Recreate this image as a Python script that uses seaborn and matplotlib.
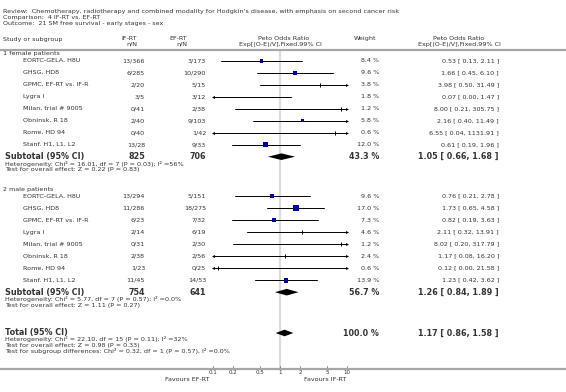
import numpy as np
import matplotlib
matplotlib.use("Agg")
import matplotlib.pyplot as plt
import seaborn as sns
import pandas as pd
from matplotlib.lines import Line2D

# ---------------- data ----------------
title_lines = [
    "Review:  Chemotherapy, radiotherapy and combined modality for Hodgkin's disease, with emphasis on second cancer risk",
    "Comparison:  4 IF-RT vs. EF-RT",
    "Outcome:  21 SM free survival - early stages - sex",
]
group_names = ["1 female patients", "2 male patients"]
studies = ["EORTC-GELA, H8U", "GHSG, HD8", "GPMC, EF-RT vs. IF-R", "Lygra I",
           "Milan, trial # 9005", "Obninsk, R 18", "Rome, HD 94", "Stanf. H1, L1, L2"]

female_ifrt = ["13/366", "6/285", "2/20", "3/5", "0/41", "2/40", "0/40", "13/28"]
female_efrt = ["3/173", "10/290", "5/15", "3/12", "2/38", "9/103", "1/42", "9/33"]
female_weight = [8.4, 9.6, 3.8, 1.8, 1.2, 5.8, 0.6, 12.0]
female_or = [0.53, 1.66, 3.98, 0.07, 8.00, 2.16, 6.55, 0.61]
female_lo = [0.13, 0.45, 0.50, 0.00, 0.21, 0.40, 0.04, 0.19]
female_hi = [2.11, 6.10, 31.49, 1.47, 305.75, 11.49, 1131.91, 1.96]

male_ifrt = ["13/294", "11/286", "6/23", "2/14", "0/31", "2/38", "1/23", "11/45"]
male_efrt = ["5/151", "18/275", "7/32", "6/19", "2/30", "2/56", "0/25", "14/53"]
male_weight = [9.6, 17.0, 7.3, 4.6, 1.2, 2.4, 0.6, 13.9]
male_or = [0.76, 1.73, 0.82, 2.11, 8.02, 1.17, 0.12, 1.23]
male_lo = [0.21, 0.65, 0.19, 0.32, 0.20, 0.08, 0.00, 0.42]
male_hi = [2.78, 4.58, 3.63, 13.91, 317.79, 16.20, 21.58, 3.62]

subtotal_ifrt = ["825", "754"]
subtotal_efrt = ["706", "641"]
subtotal_weight = [43.3, 56.7]
subtotal_or = [1.05, 1.26]
subtotal_lo = [0.66, 0.84]
subtotal_hi = [1.68, 1.89]
subtotal_notes = [
    ["Heterogeneity: Chi\u00b2 = 16.01, df = 7 (P = 0.03); I\u00b2 =56%",
     "Test for overall effect: Z = 0.22 (P = 0.83)"],
    ["Heterogeneity: Chi\u00b2 = 5.77, df = 7 (P = 0.57); I\u00b2 =0.0%",
     "Test for overall effect: Z = 1.11 (P = 0.27)"],
]
total_weight = 100.0
total_or = 1.17
total_lo = 0.86
total_hi = 1.58
total_notes = [
    "Heterogeneity: Chi\u00b2 = 22.10, df = 15 (P = 0.11); I\u00b2 =32%",
    "Test for overall effect: Z = 0.98 (P = 0.33)",
    "Test for subgroup differences: Chi\u00b2 = 0.32, df = 1 (P = 0.57), I\u00b2 =0.0%",
]
tick_values = [0.1, 0.2, 0.5, 1, 2, 5, 10]
tick_labels = ["0.1", "0.2", "0.5", "1", "2", "5", "10"]
favours_left = "Favours EF-RT"
favours_right = "Favours IF-RT"

# ---------------- layout ----------------
W, H = 566, 392
sns.set_theme(style="white")
plt.rcParams['font.family'] = ['DejaVu Sans']
TXT = "#333333"
FS = 4.6
FSB = 5.8
SQ = "#00009C"

fig = plt.figure(figsize=(W / 100, H / 100), dpi=100)
fig.patch.set_facecolor("white")


def fx(px):
    return px / W


def fy(py):
    return 1 - py / H


def t(px, py, s, ha="left", bold=False, size=None, color=TXT):
    fig.text(fx(px), fy(py), s, ha=ha, va="center",
             fontsize=size if size else (FSB if bold else FS),
             fontweight="bold" if bold else "normal", color=color)


X0, X1 = 213, 347
ax = fig.add_axes([fx(X0), 0, (X1 - X0) / W, 1])
ax.set_xscale("log")
ax.set_xlim(0.1, 10)
ax.set_ylim(H, 0)
ax.axis("off")

# titles
for i, line in enumerate(title_lines):
    t(3, 11 + 6.5 * i, line)

# header
t(3, 39, "Study or subgroup")
t(137, 39, "IF-RT", ha="right")
t(137, 44.5, "n/N", ha="right")
t(187, 39, "EF-RT", ha="right")
t(187, 44.5, "n/N", ha="right")
t(284, 38.5, "Peto Odds Ratio", ha="center")
t(280, 44.5, "Exp[(O-E)/V],Fixed,99% CI", ha="center")
t(376, 38.5, "Weight", ha="right")
t(459, 38.5, "Peto Odds Ratio", ha="center")
t(459, 44.5, "Exp[(O-E)/V],Fixed,99% CI", ha="center")

fig.add_artist(Line2D([0, 1], [fy(49.5), fy(49.5)], color="#a6a6a6", lw=1.6))
fig.add_artist(Line2D([0, 1], [fy(369), fy(369)], color="#a6a6a6", lw=1.6))

# reference line
ax.plot([1, 1], [51, 368], color="#dcdcdc", lw=1.6, zorder=0)

groups = [
    (female_ifrt, female_efrt, female_weight, female_or, female_lo, female_hi),
    (male_ifrt, male_efrt, male_weight, male_or, male_lo, male_hi),
]
group_header_y = [54, 189.5]

for g, (ifrt, efrt, wt, est, lo, hi) in enumerate(groups):
    y0 = group_header_y[g]
    t(3, y0, group_names[g])
    ys = [y0 + 6.7 + 12 * i for i in range(len(studies))]
    df = pd.DataFrame({"study": studies, "ifrt": ifrt, "efrt": efrt, "w": wt,
                       "est": est, "lo": lo, "hi": hi, "y": ys})
    for _, r in df.iterrows():
        t(23, r.y, r.study)
        t(145, r.y, r.ifrt, ha="right")
        t(206, r.y, r.efrt, ha="right")
        t(379, r.y, f"{r.w:.1f} %", ha="right")
        t(499, r.y, f"{r.est:.2f} [ {r.lo:.2f}, {r.hi:.2f} ]", ha="right")
        lo_c = min(max(r.lo, 0.1), 10)
        hi_c = min(max(r.hi, 0.1), 10)
        ax.plot([lo_c, hi_c], [r.y, r.y], color="black", lw=0.7, zorder=2)
        if r.lo < 0.1:
            ax.plot([0.1], [r.y], marker="<", ms=2.2, color="black", mew=0, zorder=3, clip_on=False)
        if r.hi > 10:
            ax.plot([10], [r.y], marker=">", ms=2.2, color="black", mew=0, zorder=3, clip_on=False)
        if 0.1 <= r.est <= 10 and r.w < 5:
            ax.plot([r.est], [r.y], marker="|", ms=2.6, mew=0.7, color="black", zorder=3)
    big = df[(df.w >= 5) & (df.est >= 0.1) & (df.est <= 10)]
    sns.scatterplot(data=big, x="est", y="y", size="w", sizes=(0, 15.5),
                    size_norm=(0, 17), marker="s", color=SQ, linewidth=0,
                    legend=False, ax=ax, zorder=4)

    # subtotal
    ys_sub = ys[-1] + 12
    t(5, ys_sub, "Subtotal (95% CI)", bold=True)
    t(145, ys_sub, subtotal_ifrt[g], ha="right", bold=True)
    t(206, ys_sub, subtotal_efrt[g], ha="right", bold=True)
    t(379, ys_sub, f"{subtotal_weight[g]:.1f} %", ha="right", bold=True)
    t(499, ys_sub, f"{subtotal_or[g]:.2f} [ {subtotal_lo[g]:.2f}, {subtotal_hi[g]:.2f} ]",
      ha="right", bold=True)
    ax.fill([subtotal_lo[g], subtotal_or[g], subtotal_hi[g], subtotal_or[g]],
            [ys_sub, ys_sub - 3.3, ys_sub, ys_sub + 3.3], color="black", lw=0, zorder=4)
    for k, note in enumerate(subtotal_notes[g]):
        t(5, ys_sub + 7 + 6 * k, note)

# total
yt = 333
t(5, yt, "Total (95% CI)", bold=True)
t(379, yt, f"{total_weight:.1f} %", ha="right", bold=True)
t(499, yt, f"{total_or:.2f} [ {total_lo:.2f}, {total_hi:.2f} ]", ha="right", bold=True)
ax.fill([total_lo, total_or, total_hi, total_or], [yt, yt - 3.3, yt, yt + 3.3],
        color="black", lw=0, zorder=4)
for k, note in enumerate(total_notes):
    t(5, yt + 6.5 + 6 * k, note)

# axis ticks
for v, lab in zip(tick_values, tick_labels):
    ax.plot([v, v], [365.5, 368.5], color="#555555", lw=0.5, clip_on=False)
    ax.text(v, 373, lab, ha="center", va="center", fontsize=4.0, color=TXT)
t(187, 379.5, favours_left, ha="center")
t(325, 379.5, favours_right, ha="center")

fig.savefig("out.png", dpi=100, facecolor="white")
